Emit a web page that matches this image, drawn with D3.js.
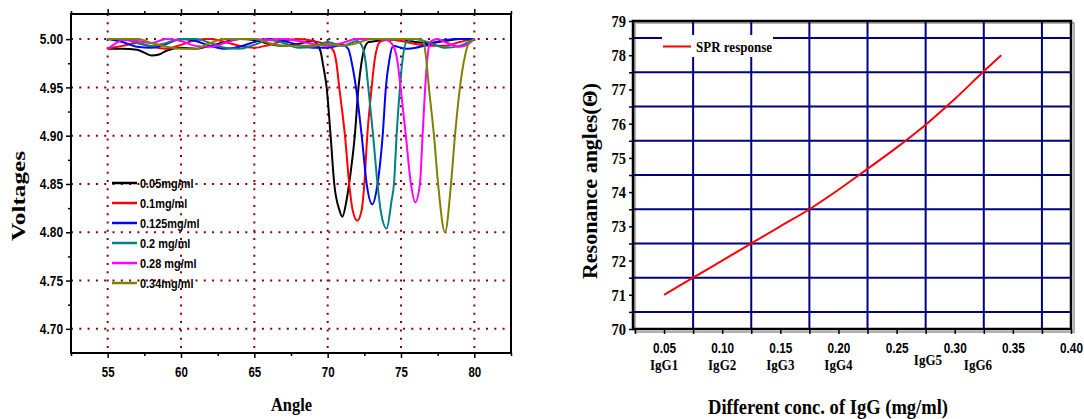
<!DOCTYPE html>
<html lang="en">
<head>
<meta charset="UTF-8">
<title>SPR dips and resonance angle</title>
<script src="https://d3js.org/d3.v7.min.js"></script>
<style>
    body { margin: 0; background: #fff; }
    svg { display: block; }
    .narrow { font-family: "Liberation Sans", Arial, sans-serif; font-weight: bold; }
    .serif { font-family: "Liberation Serif", "Times New Roman", serif; font-weight: bold; }
</style>
</head>
<body>
<svg id="chart"></svg>
<script>
// ---------- left panel data: voltage vs angle ----------
const angleTicks = [55, 60, 65, 70, 75, 80];
const angleMinor = [52.5, 57.5, 62.5, 67.5, 72.5, 77.5, 82.5];
const voltTicks = [4.70, 4.75, 4.80, 4.85, 4.90, 4.95, 5.00];
const voltMinor = [4.725, 4.775, 4.825, 4.875, 4.925, 4.975];

const seriesNames = ["0.05mg/ml", "0.1mg/ml", "0.125mg/ml", "0.2 mg/ml", "0.28 mg/ml", "0.34mg/ml"];

const angle005 = [55, 56, 57, 57.5, 58, 58.5, 59, 60, 61, 62, 63, 64, 65, 66, 67, 68, 69, 69.5, 69.7, 69.93, 70.2, 70.45, 70.8, 71.0, 71.25, 71.55, 71.85, 72.1, 72.3, 72.5, 72.8, 74, 75, 76, 77, 78, 79, 80];
const volt005  = [4.990, 4.990, 4.989, 4.986, 4.983, 4.984, 4.988, 4.991, 4.990, 4.993, 4.997, 5.000, 4.999, 4.995, 4.993, 4.995, 4.998, 4.988, 4.972, 4.950, 4.900, 4.850, 4.823, 4.816, 4.830, 4.860, 4.900, 4.950, 4.975, 4.990, 4.997, 4.999, 5.000, 4.997, 4.996, 4.998, 5.000, 5.000];

const angle01 = [55, 56, 57, 58, 59, 60, 61, 62, 63, 64, 65, 66, 67, 68, 69, 70, 70.4, 70.6, 70.79, 71.18, 71.47, 71.7, 72.02, 72.32, 72.5, 72.7, 73.0, 73.2, 73.56, 74, 75, 76, 77, 78, 79, 80];
const volt01  = [4.990, 4.993, 4.996, 4.992, 4.990, 4.994, 4.999, 5.000, 4.997, 4.993, 4.991, 4.994, 4.998, 5.000, 4.998, 4.994, 4.988, 4.975, 4.950, 4.900, 4.850, 4.823, 4.812, 4.823, 4.850, 4.900, 4.950, 4.978, 4.997, 5.000, 4.998, 4.995, 4.993, 4.993, 4.997, 5.000];

const angle0125 = [55, 56, 57, 58, 59, 60, 61, 62, 63, 64, 65, 66, 67, 68, 69, 70, 71, 71.4, 71.65, 71.93, 72.32, 72.66, 73.04, 73.4, 73.75, 73.97, 74.2, 74.47, 75, 75.5, 76, 77, 78, 79, 80];
const volt0125  = [5.000, 4.997, 4.992, 4.991, 4.995, 5.000, 4.998, 4.993, 4.990, 4.992, 4.997, 5.000, 4.998, 4.994, 4.991, 4.991, 4.994, 4.990, 4.975, 4.950, 4.900, 4.850, 4.829, 4.850, 4.900, 4.950, 4.978, 4.993, 4.991, 4.990, 4.991, 4.995, 4.999, 5.000, 5.000];

const angle02 = [55, 56, 57, 58, 59, 60, 61, 62, 63, 64, 65, 66, 67, 68, 69, 70, 71, 72, 72.42, 72.6, 72.77, 73.1, 73.4, 73.61, 74.02, 74.36, 74.52, 74.7, 74.93, 75.1, 75.38, 76, 77, 78, 79, 80];
const volt02  = [5.000, 5.000, 4.996, 4.993, 4.996, 5.000, 5.000, 4.996, 4.991, 4.990, 4.994, 4.999, 4.996, 4.991, 4.992, 4.997, 4.993, 4.998, 4.990, 4.975, 4.950, 4.900, 4.850, 4.823, 4.804, 4.833, 4.850, 4.900, 4.950, 4.978, 4.997, 5.000, 4.996, 4.991, 4.993, 5.000];

const angle028 = [55, 55.5, 56, 57, 58, 59, 60, 61, 62, 63, 64, 65, 66, 67, 68, 69, 70, 71, 72, 73, 74, 74.47, 74.75, 74.97, 75.33, 75.68, 75.97, 76.29, 76.47, 76.65, 76.8, 76.97, 77.5, 78, 79, 79.5, 80];
const volt028  = [4.990, 4.995, 4.999, 4.998, 4.996, 5.000, 4.998, 4.993, 4.992, 4.996, 5.000, 5.000, 4.999, 5.000, 4.998, 4.995, 4.993, 4.996, 5.000, 5.000, 4.999, 4.993, 4.978, 4.950, 4.900, 4.850, 4.831, 4.850, 4.900, 4.950, 4.980, 4.997, 5.000, 4.997, 4.992, 4.994, 5.000];

const angle034 = [55, 56, 57, 58, 59, 60, 61, 62, 63, 64, 65, 66, 67, 68, 69, 70, 71, 72, 73, 74, 75, 76, 76.51, 76.7, 76.9, 77.25, 77.53, 78.0, 78.41, 78.68, 79.02, 79.3, 79.6, 80];
const volt034  = [5.000, 5.000, 5.000, 4.996, 4.992, 4.990, 4.990, 4.996, 5.000, 5.000, 5.000, 4.996, 4.993, 4.993, 4.993, 4.995, 4.993, 4.996, 5.000, 5.000, 5.000, 5.000, 4.998, 4.982, 4.950, 4.900, 4.850, 4.800, 4.850, 4.900, 4.950, 4.978, 4.995, 5.000];

// ---------- right panel data: resonance angle vs concentration ----------
const concTicks = [0.05, 0.10, 0.15, 0.20, 0.25, 0.30, 0.35, 0.40];
const concMinor = [0.025, 0.075, 0.125, 0.175, 0.225, 0.275, 0.325, 0.375];
const resTicks = [70, 71, 72, 73, 74, 75, 76, 77, 78, 79];
const resMinor = [70.5, 71.5, 72.5, 73.5, 74.5, 75.5, 76.5, 77.5, 78.5];
const igLabels = ["IgG1", "IgG2", "IgG3", "IgG4", "IgG5", "IgG6"];
const igConc = [0.05, 0.10, 0.15, 0.20, 0.277, 0.32];

const conc = [0.05, 0.075, 0.10, 0.125, 0.15, 0.175, 0.20, 0.225, 0.25, 0.275, 0.30, 0.325, 0.34];
const resAngle = [71.0, 71.5, 72.0, 72.5, 73.0, 73.5, 74.07, 74.68, 75.3, 75.97, 76.72, 77.53, 78.0];

// ---------- styles ----------
const seriesColors = ["#000000", "#ff0000", "#0000ff", "#008080", "#ff00ff", "#808000"];
const gridRed = "#8b0000";
const gridNavy = "#000080";

const W = 1084, H = 419;
const svg = d3.select("#chart").attr("width", W).attr("height", H);

// squeeze text horizontally to look like a narrow face
function squeeze(sel, k) {
    sel.each(function () {
        const w = this.getComputedTextLength();
        d3.select(this).attr("textLength", w * k).attr("lengthAdjust", "spacingAndGlyphs");
    });
}

// ======================= left panel =======================
const L = { x0: 71, x1: 511, y0: 14, y1: 353 };
const xL = d3.scaleLinear().domain([52.5, 82.5]).range([L.x0, L.x1]);
const yL = d3.scaleLinear().domain([4.675, 5.026]).range([L.y1, L.y0]);

const left = svg.append("g");

// dotted grid
left.append("g").selectAll("line")
    .data(voltTicks)
    .join("line")
    .attr("x1", L.x0).attr("x2", L.x1)
    .attr("y1", d => yL(d)).attr("y2", d => yL(d))
    .attr("stroke", gridRed).attr("stroke-width", 2)
    .attr("stroke-dasharray", "2,6.3");
left.append("g").selectAll("line")
    .data(angleTicks)
    .join("line")
    .attr("x1", d => xL(d)).attr("x2", d => xL(d))
    .attr("y1", L.y0).attr("y2", L.y1)
    .attr("stroke", gridRed).attr("stroke-width", 2)
    .attr("stroke-dasharray", "2,6.3");

// curves
const seriesData = [
    [angle005, volt005], [angle01, volt01], [angle0125, volt0125],
    [angle02, volt02], [angle028, volt028], [angle034, volt034]
].map(([a, v]) => a.map((x, i) => ({ x: x, y: v[i] })));

const lineL = d3.line()
    .x(d => xL(d.x))
    .y(d => yL(d.y))
    .curve(d3.curveMonotoneX);

left.append("g").selectAll("path")
    .data(seriesData)
    .join("path")
    .attr("d", lineL)
    .attr("fill", "none")
    .attr("stroke", (d, i) => seriesColors[i])
    .attr("stroke-width", 2);

// axes
const axisStyle = g => {
    g.select(".domain").remove();
    g.selectAll("line").attr("stroke", "#000").attr("stroke-width", 1.5);
};

left.append("g")
    .attr("transform", `translate(0,${L.y1})`)
    .attr("class", "narrow")
    .call(d3.axisBottom(xL).tickValues(angleTicks).tickSize(5).tickPadding(9).tickFormat(d3.format("d")))
    .call(axisStyle)
    .call(g => g.selectAll("text").attr("font-size", 14).attr("fill", "#000").attr("font-family", null).call(squeeze, 0.82));
left.append("g")
    .attr("transform", `translate(0,${L.y1})`)
    .call(d3.axisBottom(xL).tickValues(angleMinor).tickSize(3).tickFormat(""))
    .call(axisStyle);
left.append("g")
    .attr("transform", `translate(0,${L.y0})`)
    .call(d3.axisTop(xL).tickValues(angleTicks).tickSize(5).tickFormat(""))
    .call(axisStyle);
left.append("g")
    .attr("transform", `translate(0,${L.y0})`)
    .call(d3.axisTop(xL).tickValues(angleMinor).tickSize(3).tickFormat(""))
    .call(axisStyle);
left.append("g")
    .attr("transform", `translate(${L.x0},0)`)
    .attr("class", "narrow")
    .call(d3.axisLeft(yL).tickValues(voltTicks).tickSize(5).tickPadding(3).tickFormat(d3.format(".2f")))
    .call(axisStyle)
    .call(g => g.selectAll("text").attr("font-size", 14.5).attr("fill", "#000").attr("font-family", null).call(squeeze, 0.82));
left.append("g")
    .attr("transform", `translate(${L.x0},0)`)
    .call(d3.axisLeft(yL).tickValues(voltMinor).tickSize(3).tickFormat(""))
    .call(axisStyle);

left.append("rect")
    .attr("x", L.x0).attr("y", L.y0)
    .attr("width", L.x1 - L.x0).attr("height", L.y1 - L.y0)
    .attr("fill", "none").attr("stroke", "#000").attr("stroke-width", 2);

// legend
const legL = left.append("g").attr("class", "narrow");
const legRow = legL.selectAll("g")
    .data(seriesNames)
    .join("g")
    .attr("transform", (d, i) => `translate(112,${183 + i * 20})`);
legRow.append("line")
    .attr("x1", 0).attr("x2", 25)
    .attr("stroke", (d, i) => seriesColors[i]).attr("stroke-width", 2.5);
legRow.append("text")
    .attr("x", 28).attr("dy", "0.35em")
    .attr("font-size", 13)
    .text(d => d)
    .call(squeeze, 0.84);

// titles
left.append("text")
    .attr("class", "serif")
    .attr("transform", "translate(25,196) rotate(-90)")
    .attr("text-anchor", "middle")
    .attr("font-size", 19)
    .attr("textLength", 90).attr("lengthAdjust", "spacingAndGlyphs")
    .text("Voltages");
left.append("text")
    .attr("class", "serif")
    .attr("x", 291.5).attr("y", 411)
    .attr("text-anchor", "middle")
    .attr("font-size", 19)
    .attr("textLength", 41).attr("lengthAdjust", "spacingAndGlyphs")
    .text("Angle");

// ======================= right panel =======================
const R = { x0: 633, x1: 1071, y0: 21, y1: 329 };
const xR = d3.scaleLinear().domain([0.0233, 0.40]).range([R.x0, R.x1]);
const yR = d3.scaleLinear().domain([70, 79]).range([R.y1, R.y0]);

const right = svg.append("g");

// shadow of the frame
right.append("rect")
    .attr("x", R.x0 + 2).attr("y", R.y0 + 2)
    .attr("width", R.x1 - R.x0 + 1).attr("height", R.y1 - R.y0 + 1)
    .attr("fill", "none").attr("stroke", "#b0b0b0").attr("stroke-width", 2);

right.append("g").selectAll("line")
    .data(resMinor)
    .join("line")
    .attr("x1", R.x0).attr("x2", R.x1)
    .attr("y1", d => yR(d)).attr("y2", d => yR(d))
    .attr("stroke", gridNavy).attr("stroke-width", 2);
right.append("g").selectAll("line")
    .data(concMinor.filter(d => d > 0.03))
    .join("line")
    .attr("x1", d => xR(d)).attr("x2", d => xR(d))
    .attr("y1", R.y0).attr("y2", R.y1)
    .attr("stroke", gridNavy).attr("stroke-width", 2);

// legend box
right.append("rect")
    .attr("x", 662).attr("y", 35).attr("width", 111).attr("height", 22)
    .attr("fill", "#fff");
right.append("line")
    .attr("x1", 663).attr("x2", 691).attr("y1", 46.5).attr("y2", 46.5)
    .attr("stroke", "#ff0000").attr("stroke-width", 2);
right.append("text")
    .attr("class", "serif")
    .attr("x", 696).attr("y", 51.5)
    .attr("font-size", 14.5)
    .attr("textLength", 76).attr("lengthAdjust", "spacingAndGlyphs")
    .text("SPR response");

// curve
right.append("path")
    .datum(conc.map((c, i) => ({ x: c, y: resAngle[i] })))
    .attr("d", d3.line().x(d => xR(d.x)).y(d => yR(d.y)).curve(d3.curveMonotoneX))
    .attr("fill", "none").attr("stroke", "#ff0000").attr("stroke-width", 2);

// axes
right.append("g")
    .attr("transform", `translate(0,${R.y1})`)
    .attr("class", "narrow")
    .call(d3.axisBottom(xR).tickValues(concTicks).tickSize(5).tickPadding(8).tickFormat(d3.format(".2f")))
    .call(axisStyle)
    .call(g => g.selectAll("text").attr("font-size", 15.5).attr("fill", "#000").attr("font-family", null)
        .attr("transform", "scale(0.76,1)"));
right.append("g")
    .attr("transform", `translate(0,${R.y1})`)
    .call(d3.axisBottom(xR).tickValues(concMinor).tickSize(5).tickFormat(""))
    .call(axisStyle);
right.append("g")
    .attr("transform", `translate(${R.x0},0)`)
    .attr("class", "serif")
    .call(d3.axisLeft(yR).tickValues(resTicks).tickSize(4).tickPadding(3).tickFormat(d3.format("d")))
    .call(axisStyle)
    .call(g => g.selectAll("text").attr("font-size", 17).attr("fill", "#000").attr("font-family", null).call(squeeze, 0.85));
right.append("g")
    .attr("transform", `translate(${R.x0},0)`)
    .call(d3.axisLeft(yR).tickValues(resMinor).tickSize(4).tickFormat(""))
    .call(axisStyle);

right.append("rect")
    .attr("x", R.x0).attr("y", R.y0)
    .attr("width", R.x1 - R.x0).attr("height", R.y1 - R.y0)
    .attr("fill", "none").attr("stroke", "#000").attr("stroke-width", 2.5);

// IgG labels under the ticks
right.append("g").attr("class", "serif")
    .selectAll("text")
    .data(igLabels)
    .join("text")
    .attr("x", (d, i) => xR(igConc[i]))
    .attr("y", (d, i) => i === 4 ? 365 : 370)
    .attr("text-anchor", "middle")
    .attr("font-size", 14.5)
    .text(d => d)
    .call(squeeze, 0.9);

// titles
right.append("text")
    .attr("class", "serif")
    .attr("transform", "translate(597,181) rotate(-90)")
    .attr("text-anchor", "middle")
    .attr("font-size", 22)
    .text("Resonance angles(\u0398)");
right.append("text")
    .attr("class", "serif")
    .attr("x", 828).attr("y", 414)
    .attr("text-anchor", "middle")
    .attr("font-size", 20)
    .attr("textLength", 240).attr("lengthAdjust", "spacingAndGlyphs")
    .text("Different conc. of IgG (mg/ml)");
</script>
</body>
</html>
